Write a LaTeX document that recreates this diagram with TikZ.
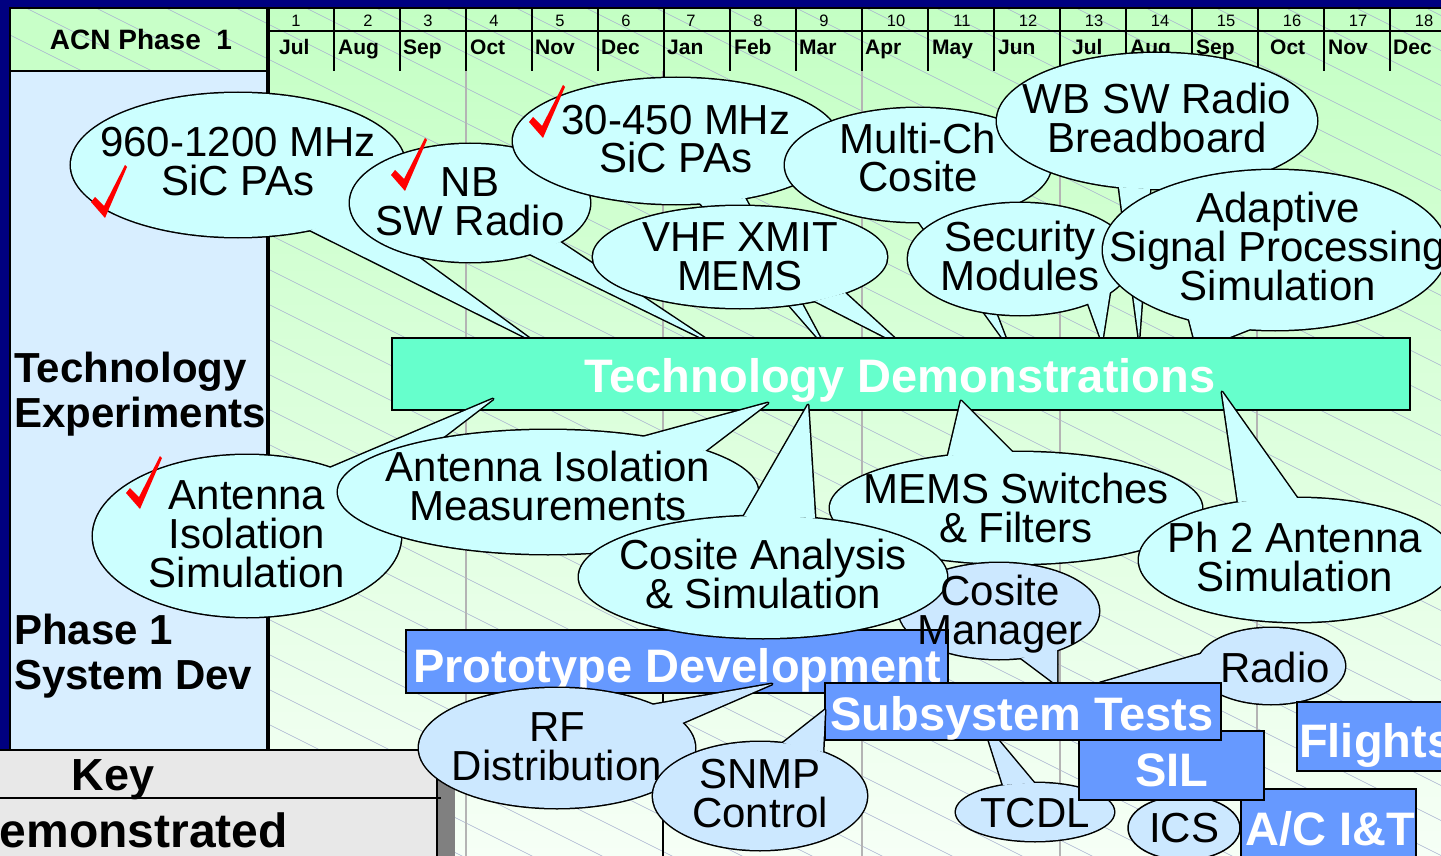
\documentclass[tikz,border=0pt]{standalone}
\usepackage{fontspec}
\setmainfont{Liberation Sans}
\definecolor{navy}{HTML}{000080}
\definecolor{hdrgreen}{HTML}{C8FFC8}
\definecolor{panelblue}{HTML}{D8EEFF}
\definecolor{cyanfill}{HTML}{CCFFFF}
\definecolor{bluefill}{HTML}{CCE8FF}
\definecolor{demogreen}{HTML}{66FFCC}
\definecolor{boxblue}{HTML}{6699FF}
\definecolor{gridgray}{HTML}{B4B4B4}
\definecolor{hatchcol}{HTML}{A8B0D0}
\definecolor{keygray}{HTML}{E8E8E8}
\definecolor{shadowgray}{HTML}{808080}
\definecolor{bgtop}{HTML}{C4FFC4}
\definecolor{bgbot}{HTML}{F6FFF6}
\definecolor{tickred}{HTML}{FF0000}

% #1 name, #2 center, #3 rx, #4 ry, #5 base1, #6 tip, #7 base2, #8 fill
\newcommand{\callout}[8]{%
  \coordinate (#1-c) at #2; \coordinate (#1-b1) at #5;
  \coordinate (#1-t) at #6; \coordinate (#1-b2) at #7;
  \draw[line width=3pt] (#1-c) ellipse[x radius=#3pt, y radius=#4pt];
  \draw[line width=3pt, line join=round] (#1-b1) -- (#1-t) -- (#1-b2);
  \fill[#8] (#1-c) ellipse[x radius=#3pt, y radius=#4pt];
  \fill[#8] (#1-b1) -- (#1-t) -- (#1-b2) -- cycle;
}
\newcommand{\bubble}[5]{%
  \coordinate (#1-c) at #2;
  \draw[line width=1.5pt, fill=#5] (#1-c) ellipse[x radius=#3pt, y radius=#4pt];
}
\newcommand{\redtick}[2]{%
  \fill[tickred, shift={(#1,#2)}] (1,37) -- (5,32) -- (14,41) -- (35,0) -- (37,2) -- (15,53) -- cycle;
}
% line strut: height 32pt, depth 12pt
\newcommand{\cs}{\vrule height 32pt depth 12pt width 0pt\relax}
\newcommand{\calloutfont}{\fontsize{42}{39}\selectfont\lineskiplimit=-100pt\relax\lineskip=0pt\relax}

\begin{document}
\begin{tikzpicture}[x=1pt,y=-1pt,
  ctext/.style={font={\calloutfont}, align=center, inner sep=0pt},
  btext/.style={font=\fontsize{47}{47}\selectfont\bfseries, text=white, inner sep=0pt, anchor=base},
  lbl/.style={font=\fontsize{42}{45}\selectfont\bfseries, align=left, inner sep=0pt, anchor=north west},
  numtxt/.style={font=\fontsize{16.5}{18}\selectfont, inner sep=0pt, anchor=base},
  montxt/.style={font=\fontsize{21}{24}\selectfont\bfseries, inner sep=0pt, anchor=base west},
  bluebox/.style={draw, line width=1.8pt, fill=boxblue, inner sep=0pt, outer sep=0pt, anchor=north west},
  demobox/.style={bluebox, fill=demogreen},
]
\useasboundingbox (0,0) rectangle (1441,856);

% background
\shade[top color=bgtop, bottom color=bgbot] (10,8) rectangle (1441,856);
\fill[hdrgreen] (10,8) rectangle (268,71);
\begin{scope}
  \clip (10,8) rectangle (1441,856);
  \foreach \k in {-24,...,25} \draw[hatchcol, line width=0.6pt] (10,{\k*35}) -- ++(1500,750);
\end{scope}

% quarter grid lines
\foreach \x in {466,663,862,1060,1257} \draw[gridgray, line width=1.5pt] (\x,71) -- (\x,856);
\draw[line width=1.5pt] (663,693) -- (663,856);

% header
\draw[line width=1.5pt] (268,31) -- (1441,31);
\foreach \k in {1,...,17} \draw[line width=1.5pt] ({268+66*\k},8) -- ({268+66*\k},71);
\draw[line width=2.5pt] (664,8) -- (664,78);
\foreach \i/\x in {1/296,2/368,3/428,4/494,5/560,6/626,7/691,8/758,9/824,10/896,11/962,12/1028,13/1094,14/1160,15/1226,16/1292,17/1358,18/1424}
  \node[numtxt] (num\i) at (\x,27) {\i};
\foreach \i/\m/\x in {1/Jul/279,2/Aug/338,3/Sep/403,4/Oct/470,5/Nov/535,6/Dec/601,7/Jan/667,8/Feb/734,9/Mar/799,10/Apr/865,11/May/932,12/Jun/998,13/Jul/1072,14/Aug/1130,15/Sep/1196,16/Oct/1270,17/Nov/1328,18/Dec/1393}
  \node[montxt] (mon\i) at (\x,55) {\m};

% left panel
\fill[panelblue] (10,71) rectangle (268,750);
\fill[navy] (0,0) rectangle (1441,7);
\fill[navy] (0,0) rectangle (9,760);
\draw[line width=1.5pt] (9,8) -- (1441,8);
\draw[line width=1.5pt] (10,8) -- (10,760);
\draw[line width=1.5pt] (10,71) -- (268,71);
\draw[line width=3.5pt] (268,8) -- (268,752);
\node[font=\fontsize{28}{30}\selectfont\bfseries, inner sep=0pt, anchor=base] (acn) at (141,50) {ACN Phase\ \ 1};
\node[lbl] (techexp) at (14,350.5) {\strut Technology\\\strut Experiments};
\node[lbl] (phase1) at (14,612.5) {\strut Phase 1\\\strut System Dev};

% top callouts
\callout{c960}{(238,165)}{167}{72}{(310,230)}{(533,341)}{(359,214)}{cyanfill}
\node[ctext] (t960) at (238,166) {\cs 960-1200 MHz\\\cs SiC PAs};
\redtick{90}{165}
\callout{cnb}{(470,203)}{120}{59}{(530,254)}{(712,343)}{(560,242)}{cyanfill}
\node[ctext] (tnb) at (470,205.5) {\cs NB\\\cs SW Radio};
\redtick{390}{138}
\callout{c30}{(676,141)}{163}{63}{(700,203)}{(824,345)}{(745,198)}{cyanfill}
\node[ctext] (t30) at (676,143.5) {\cs 30-450 MHz\\\cs SiC PAs};
\redtick{528}{85}
\callout{cmulti}{(918,165)}{133}{57}{(919,222)}{(1009,347)}{(960,219)}{cyanfill}
\node[ctext] (tmulti) at (918,162.5) {\cs Multi-Ch\\\cs Cosite};
\callout{cwb}{(1157,121)}{160}{68}{(1119,187)}{(1139,339)}{(1150,189)}{cyanfill}
\node[ctext] (twb) at (1157,123.5) {\cs WB SW Radio\\\cs Breadboard};
\callout{cvhf}{(740,257)}{147}{51}{(815,301)}{(903,346)}{(845,293)}{cyanfill}
\node[ctext] (tvhf) at (740,260.5) {\cs VHF XMIT\\\cs MEMS};
\callout{csec}{(1020,259)}{112}{56}{(1088,303)}{(1102,342)}{(1110,291)}{cyanfill}
\node[ctext] (tsec) at (1020,260.5) {\cs Security\\\cs Modules};
\callout{cadapt}{(1275,250)}{172}{80}{(1189,319)}{(1197,350)}{(1250,329)}{cyanfill}
\node[ctext] (tadapt) at (1278,251) {\cs Adaptive\\\cs Signal Processing\\\cs Simulation};

% technology demonstrations
\node[demobox, minimum width=1018pt, minimum height=72pt] (demo) at (392,338) {};
\node[btext] (demotext) at (900,392) {Technology Demonstrations};

% lower callouts
\callout{cantsim}{(247,536)}{154}{81}{(330,468)}{(493,399)}{(374,490)}{cyanfill}
\node[ctext] (tantsim) at (247,538.5) {\cs Antenna\\\cs Isolation\\\cs Simulation};
\redtick{125}{456}
\callout{cantmeas}{(548,492)}{210}{62}{(643,437)}{(768,403)}{(705,451)}{cyanfill}
\node[ctext] (tantmeas) at (548,490.5) {\cs Antenna Isolation\\\cs Measurements};
\callout{cmems}{(1016,508)}{186}{56}{(948,456)}{(961,401)}{(1012,452)}{cyanfill}
\node[ctext] (tmems) at (1016,513) {\cs MEMS Switches\\\cs \& Filters};
\callout{cph2}{(1297,560)}{158}{62}{(1238,502)}{(1222,392)}{(1297,498)}{cyanfill}
\node[ctext] (tph2) at (1295,562) {\cs Ph 2 Antenna\\\cs Simulation};
\callout{cmgr}{(999,611)}{100}{48}{(1021,658)}{(1057,685)}{(1057,650)}{bluefill}
\node[bluebox, minimum width=542pt, minimum height=63pt] (proto) at (406,630) {};
\node[btext] (prototext) at (677,682) {Prototype Development};
\callout{ccas}{(763,577)}{184}{61}{(744,516)}{(808,405)}{(815,518)}{cyanfill}
\node[ctext] (tcas) at (763,579) {\cs Cosite Analysis\\\cs \& Simulation};
\node[ctext] (tmgr) at (1000,615) {\cs Cosite\\\cs Manager};

% key
\fill[shadowgray] (437,768) rectangle (455,870);
\draw[line width=1.5pt, fill=keygray] (-20,750) rectangle (437,870);
\draw[line width=1.5pt] (-20,798) -- (441,798);
\node[font=\fontsize{45}{45}\selectfont\bfseries, inner sep=0pt, anchor=base] (keytitle) at (113,790) {Key};
\node[font=\fontsize{48}{48}\selectfont\bfseries, inner sep=0pt, anchor=base east] (keydemo) at (288,847) {Demonstrated};

% system test area
\callout{cradio}{(1271,666)}{74}{38}{(1201,654)}{(1100,683)}{(1205,683)}{bluefill}
\node[ctext] (tradio) at (1275,672) {\cs Radio};
\callout{ctcdl}{(1035,812)}{79}{29}{(1003,785)}{(983,722)}{(1034,783)}{bluefill}
\node[ctext] (ttcdl) at (1035,817) {\cs TCDL};
\bubble{cics}{(1184,828)}{56}{32}{bluefill}
\node[ctext] (tics) at (1184,832) {\cs ICS};
\node[bluebox, minimum width=175pt, minimum height=80pt] (acit) at (1241,789) {};
\node[btext] (acittext) at (1330,845) {A/C I\&T};
\node[bluebox, minimum width=185pt, minimum height=69pt] (sil) at (1079,731) {};
\node[btext] (siltext) at (1172,786) {SIL};
\node[bluebox, minimum width=396pt, minimum height=57pt] (subsys) at (825,683) {};
\node[btext] (subsystext) at (1022,730) {Subsystem Tests};
\node[bluebox, minimum width=170pt, minimum height=69pt] (flights) at (1297,702) {};
\node[btext, anchor=base west] (flightstext) at (1299,757) {Flights};
\callout{crf}{(557,748)}{138}{60}{(652,705)}{(772,684)}{(682,723)}{bluefill}
\node[ctext] (trf) at (557,750.5) {\cs RF\\\cs Distribution};
\callout{csnmp}{(760,796)}{107}{54}{(783,743)}{(825,710)}{(823,752)}{bluefill}
\node[ctext] (tsnmp) at (760,797.5) {\cs SNMP\\\cs Control};
\end{tikzpicture}
\end{document}
